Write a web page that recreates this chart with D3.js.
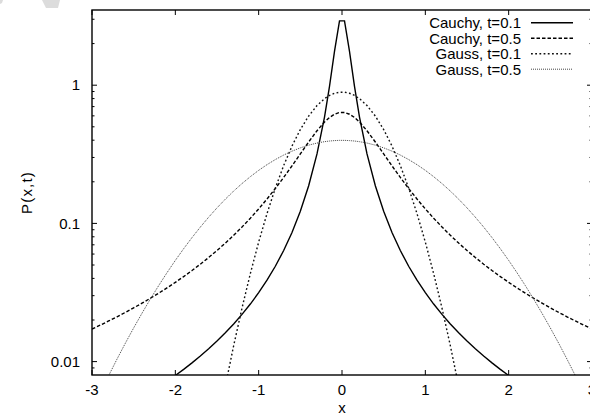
<!DOCTYPE html>
<html>
<head>
<meta charset="utf-8">
<script src="https://cdn.jsdelivr.net/npm/d3@7"></script>
<style>
  body { margin: 0; background: #fff; }
  svg { display: block; font-family: "Liberation Sans", Arial, Helvetica, sans-serif; }
</style>
</head>
<body>
<div id="chart"></div>
<script>
// sample positions along x (denser near the Cauchy peak)
const xs = [-3.0, -2.9, -2.8, -2.7, -2.6, -2.5, -2.4, -2.3, -2.2, -2.1, -2.0, -1.9, -1.8, -1.7, -1.6, -1.5,
  -1.4, -1.3, -1.2, -1.1, -1.0, -0.9, -0.8, -0.7, -0.6, -0.5, -0.4, -0.3, -0.21, -0.15, -0.09, -0.03,
  0.03, 0.09, 0.15, 0.21, 0.3, 0.4, 0.5, 0.6, 0.7, 0.8, 0.9, 1.0, 1.1, 1.2, 1.3, 1.4,
  1.5, 1.6, 1.7, 1.8, 1.9, 2.0, 2.1, 2.2, 2.3, 2.4, 2.5, 2.6, 2.7, 2.8, 2.9, 3.0];

const cauchy01 = [null, null, null, null, null, null, null, null, null, 0.007202, 0.007938, 0.008793, 0.009794, 0.010976, 0.012386, 0.014085,
  0.016158, 0.018724, 0.02195, 0.02609, 0.03152, 0.03882, 0.04897, 0.06366, 0.08603, 0.12243, 0.18724, 0.3183, 0.5884, 0.9794, 1.7586, 2.920,
  2.920, 1.7586, 0.9794, 0.5884, 0.3183, 0.18724, 0.12243, 0.08603, 0.06366, 0.04897, 0.03882, 0.03152, 0.02609, 0.02195, 0.018724, 0.016158,
  0.014085, 0.012386, 0.010976, 0.009794, 0.008793, 0.007938, 0.007202, null, null, null, null, null, null, null, null, null];

const cauchy05 = [0.017206, 0.018378, 0.019673, 0.02111, 0.02270, 0.02449, 0.02648, 0.02873, 0.03127, 0.03415, 0.03745, 0.04123, 0.04560, 0.05069, 0.05664, 0.06366,
  0.07202, 0.08204, 0.09418, 0.10901, 0.12732, 0.15015, 0.17883, 0.2151, 0.2609, 0.3183, 0.3882, 0.4681, 0.5412, 0.5841, 0.6166, 0.6343,
  0.6343, 0.6166, 0.5841, 0.5412, 0.4681, 0.3882, 0.3183, 0.2609, 0.2151, 0.17883, 0.15015, 0.12732, 0.10901, 0.09418, 0.08204, 0.07202,
  0.06366, 0.05664, 0.05069, 0.04560, 0.04123, 0.03745, 0.03415, 0.03127, 0.02873, 0.02648, 0.02449, 0.02270, 0.02111, 0.019673, 0.018378, 0.017206];

const gauss01 = [null, null, null, null, null, null, null, null, null, null, null, null, null, null, null, 0.003217,
  0.006643, 0.013048, 0.02437, 0.04331, 0.07323, 0.11774, 0.1801, 0.2621, 0.3627, 0.4775, 0.5980, 0.7123, 0.7989, 0.8433, 0.8742, 0.8901,
  0.8901, 0.8742, 0.8433, 0.7989, 0.7123, 0.5980, 0.4775, 0.3627, 0.2621, 0.1801, 0.11774, 0.07323, 0.04331, 0.02437, 0.013048, 0.006643,
  0.003217, null, null, null, null, null, null, null, null, null, null, null, null, null, null, null];

const gauss05 = [0.004432, 0.005953, 0.007915, 0.010421, 0.013583, 0.017528, 0.02239, 0.02833, 0.03547, 0.04398, 0.05399, 0.06561, 0.07895, 0.09405, 0.11092, 0.12952,
  0.14973, 0.1714, 0.1942, 0.2178, 0.2420, 0.2661, 0.2897, 0.3123, 0.3332, 0.3521, 0.3683, 0.3814, 0.3902, 0.3945, 0.3973, 0.3988,
  0.3988, 0.3973, 0.3945, 0.3902, 0.3814, 0.3683, 0.3521, 0.3332, 0.3123, 0.2897, 0.2661, 0.2420, 0.2178, 0.1942, 0.1714, 0.14973,
  0.12952, 0.11092, 0.09405, 0.07895, 0.06561, 0.05399, 0.04398, 0.03547, 0.02833, 0.02239, 0.017528, 0.013583, 0.010421, 0.007915, 0.005953, 0.004432];

const seriesNames = ["Cauchy, t=0.1", "Cauchy, t=0.5", "Gauss, t=0.1", "Gauss, t=0.5"];
const xTicks = [-3, -2, -1, 0, 1, 2, 3];
const yMajor = [0.01, 0.1, 1];
const yMinor = [0.009, 0.02, 0.03, 0.04, 0.05, 0.06, 0.07, 0.08, 0.09,
  0.2, 0.3, 0.4, 0.5, 0.6, 0.7, 0.8, 0.9, 2, 3];

const width = 590, height = 415;
const plot = { left: 92, right: 592, top: 10, bottom: 375 };
const fontSize = 15;

const svg = d3.select("#chart").append("svg")
  .attr("width", width)
  .attr("height", height);

// faint grey scrap in the top-left corner
svg.append("path")
  .attr("d", "M0,0 L3,0 L2,3 L0,4 Z M42,0 L60,0 L58,8 L46,8 Z")
  .attr("fill", "#dcdcdc");

const x = d3.scaleLinear().domain([-3, 3]).range([plot.left, plot.right]);
const y = d3.scaleLog().domain([0.008, 3.5]).range([plot.bottom, plot.top]);

svg.append("defs").append("clipPath")
  .attr("id", "plot-clip")
  .append("rect")
    .attr("x", plot.left).attr("y", plot.top)
    .attr("width", plot.right - plot.left).attr("height", plot.bottom - plot.top);

const styles = [
  { color: "#000", width: 1.4, dash: null },
  { color: "#000", width: 1.4, dash: "3.5,2" },
  { color: "#111", width: 1.4, dash: "1.8,2.4" },
  { color: "#444", width: 1, dash: "1,1" }
];

const series = [cauchy01, cauchy05, gauss01, gauss05];

const line = d3.line()
  .defined(d => d[1] != null)
  .x(d => x(d[0]))
  .y(d => y(d[1]));

const curves = svg.append("g").attr("clip-path", "url(#plot-clip)");
series.forEach((vals, i) => {
  const pts = xs.map((xv, j) => [xv, vals[j]]);
  curves.append("path")
    .datum(pts)
    .attr("fill", "none")
    .attr("stroke", styles[i].color)
    .attr("stroke-width", styles[i].width)
    .attr("stroke-dasharray", styles[i].dash)
    .attr("d", line);
});

// ticks (gnuplot style: inward, mirrored)
const ticks = svg.append("g").attr("stroke", "#000").attr("stroke-width", 1);
xTicks.forEach(t => {
  ticks.append("line").attr("x1", x(t)).attr("x2", x(t)).attr("y1", plot.bottom).attr("y2", plot.bottom - 5);
  ticks.append("line").attr("x1", x(t)).attr("x2", x(t)).attr("y1", plot.top).attr("y2", plot.top + 5);
});
yMajor.forEach(t => {
  ticks.append("line").attr("x1", plot.left).attr("x2", plot.left + 5).attr("y1", y(t)).attr("y2", y(t));
  ticks.append("line").attr("x1", plot.right).attr("x2", plot.right - 5).attr("y1", y(t)).attr("y2", y(t));
});
yMinor.forEach(t => {
  ticks.append("line").attr("x1", plot.left).attr("x2", plot.left + 2.5).attr("y1", y(t)).attr("y2", y(t));
  ticks.append("line").attr("x1", plot.right).attr("x2", plot.right - 2.5).attr("y1", y(t)).attr("y2", y(t));
});

// border
svg.append("rect")
  .attr("x", plot.left).attr("y", plot.top)
  .attr("width", plot.right - plot.left).attr("height", plot.bottom - plot.top)
  .attr("fill", "none")
  .attr("stroke", "#000")
  .attr("stroke-width", 1.4);

// tick labels
svg.append("g").selectAll("text")
  .data(xTicks)
  .join("text")
    .attr("x", d => x(d))
    .attr("y", 394.5)
    .attr("text-anchor", "middle")
    .attr("font-size", fontSize)
    .text(d => d);

svg.append("g").selectAll("text")
  .data(yMajor)
  .join("text")
    .attr("x", 80)
    .attr("y", d => y(d) + 5.3)
    .attr("text-anchor", "end")
    .attr("font-size", fontSize)
    .text(d => d);

// axis titles
svg.append("text")
  .attr("x", x(0))
  .attr("y", 413)
  .attr("text-anchor", "middle")
  .attr("font-size", fontSize)
  .text("x");

svg.append("text")
  .attr("transform", `translate(31.5,${(plot.top + plot.bottom) / 2}) rotate(-90)`)
  .attr("text-anchor", "middle")
  .attr("font-size", fontSize)
  .attr("letter-spacing", 1.2)
  .text("P(x,t)");

// legend
const legend = svg.append("g");
seriesNames.forEach((name, i) => {
  const ly = 22.7 + i * 15.5;
  legend.append("text")
    .attr("x", 521)
    .attr("y", ly + 5.3)
    .attr("text-anchor", "end")
    .attr("font-size", fontSize)
    .text(name);
  legend.append("line")
    .attr("x1", 531).attr("x2", 573)
    .attr("y1", ly).attr("y2", ly)
    .attr("stroke", styles[i].color)
    .attr("stroke-width", styles[i].width)
    .attr("stroke-dasharray", styles[i].dash);
});
</script>
</body>
</html>
